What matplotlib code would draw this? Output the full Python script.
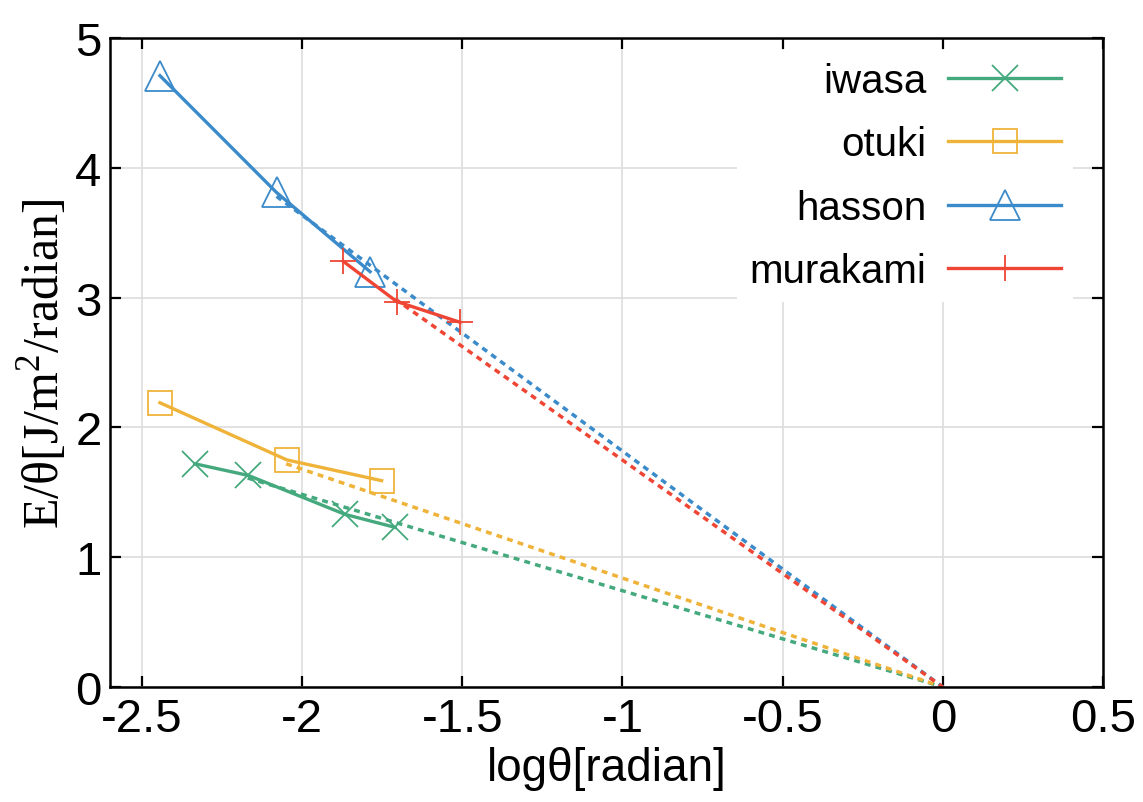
import matplotlib
matplotlib.use("Agg")
import matplotlib.pyplot as plt

# measured points
iwasa_x = [-2.335, -2.168, -1.866, -1.71]
iwasa_y = [1.72, 1.63, 1.33, 1.23]
otuki_x = [-2.444, -2.048, -1.752]
otuki_y = [2.19, 1.75, 1.59]
hasson_x = [-2.444, -2.08, -1.788]
hasson_y = [4.71, 3.81, 3.20]
murakami_x = [-1.872, -1.705, -1.507]
murakami_y = [3.28, 2.97, 2.81]

# dashed fit lines (start point -> origin)
fit_x = {'iwasa': [-2.17, 0.0], 'otuki': [-2.05, 0.0],
         'hasson': [-2.08, 0.0], 'murakami': [-1.71, 0.0]}
fit_y = {'iwasa': [1.61, 0.0], 'otuki': [1.72, 0.0],
         'hasson': [3.78, 0.0], 'murakami': [2.99, 0.0]}

colors = {'iwasa': '#45a97e', 'otuki': '#efb33a',
          'hasson': '#3b8bcb', 'murakami': '#ee4534'}

plt.rcParams['font.family'] = ['Liberation Sans', 'DejaVu Sans']
plt.rcParams['mathtext.fontset'] = 'custom'
plt.rcParams['mathtext.rm'] = 'Liberation Serif'

fig = plt.figure(figsize=(11.43, 8.03), dpi=100)
ax = fig.add_axes([0.0962, 0.1432, 0.8688, 0.8082])

series = [
    ('iwasa', iwasa_x, iwasa_y, 'x', 19),
    ('otuki', otuki_x, otuki_y, 's', 17),
    ('hasson', hasson_x, hasson_y, '^', 22),
    ('murakami', murakami_x, murakami_y, '+', 19),
]

for name, xs, ys, mk, ms in series:
    c = colors[name]
    ax.plot(fit_x[name], fit_y[name], ls=(0, (1.7, 1.5)), lw=2.5, color=c, zorder=2)
    ax.plot(xs, ys, lw=2.4, color=c, marker=mk, ms=ms, mfc='none',
            mec=c, mew=1.3, label=name, zorder=3)

ax.set_xlim(-2.6, 0.5)
ax.set_ylim(0, 5)
ax.set_xticks([-2.5, -2, -1.5, -1, -0.5, 0, 0.5])
ax.set_xticklabels(['-2.5', '-2', '-1.5', '-1', '-0.5', '0', '0.5'])
ax.set_yticks([0, 1, 2, 3, 4, 5])

ax.grid(True, color='#dddddd', lw=1.2, zorder=0)
ax.set_axisbelow(True)
ax.tick_params(direction='in', length=8, width=1.6, top=True, right=True,
               labelsize=34)
ax.tick_params(axis='x', pad=7)
ax.tick_params(axis='y', pad=6)
for s in ax.spines.values():
    s.set_linewidth(1.8)

ax.set_xlabel('logθ[radian]', fontsize=33, labelpad=4)
ax.set_ylabel(r'E/θ[J/m$^2$/radian]', fontsize=36,
              family=['Liberation Serif', 'DejaVu Serif'], labelpad=4)

leg = ax.legend(loc='upper right', bbox_to_anchor=(0.970, 0.9815),
                markerfirst=False, fontsize=29,
                handlelength=2.8, frameon=True, fancybox=False,
                facecolor='white', edgecolor='none', framealpha=1,
                labelspacing=0.63, borderaxespad=0, borderpad=0.3,
                handletextpad=0.55)
leg.set_zorder(5)

fig.savefig('out.png', dpi=100)
